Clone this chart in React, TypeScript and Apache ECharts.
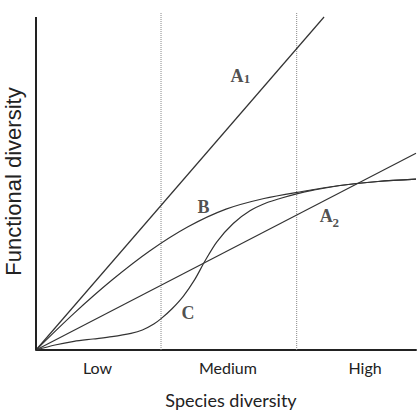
import React, { useEffect, useRef } from "react";
import * as echarts from "echarts";

// ---- data (abstract units: x 0..100, y 0..100) ----
const lineA1: number[][] = [[0, 0], [75.8, 100]];
const lineA2: number[][] = [[0, 0], [100, 59.1]];
const curveB: number[][] = [
  [0, 0], [10, 11.0], [20, 21.0], [30, 29.8], [40, 37.0], [50, 42.3],
  [60, 45.5], [70, 47.6], [80, 49.4], [90, 50.6], [100, 51.3],
];
const curveC: number[][] = [
  [0, 0], [5, 1.5], [10, 2.6], [15, 3.3], [20, 4.0], [25, 5.0], [28, 6.0], [31, 7.8],
  [33, 9.5], [35.8, 12.4], [38.8, 16.2], [41.8, 21.2], [44.5, 26.8], [47.6, 32.5],
  [51.9, 38], [56.3, 41.8], [60.7, 44.2], [64.2, 45.5], [68.6, 46.9], [73, 48.0],
  [80, 49.4], [90, 50.6], [100, 51.3],
];
const dividers: number[] = [32.9, 68.6];
const tickValues: number[] = [16.2, 50.5, 86.6];
const tickLabels: string[] = ["Low", "Medium", "High"];
const curveNames: string[] = ["A", "B", "A", "C"];
const curveNamePos: number[][] = [[52.9, 82.4], [44.1, 42.9], [76.4, 40.1], [40, 11.0]];
const subNames: string[] = ["1", "2"];
const subNamePos: number[][] = [[55.5, 81.4], [78.9, 38.3]];
const xName = "Species diversity";
const yName = "Functional diversity";
const yTop = 100;
const yMax = 101.2;

export default function App() {
  const ref = useRef<HTMLDivElement>(null);
  useEffect(() => {
    if (!ref.current) return;
    const chart = echarts.init(ref.current, undefined, { renderer: "svg" });
    const curveStyle = { color: "#333", width: 1.2 };
    const lineSeries = (data: number[][], smooth: number | boolean) => ({
      type: "line",
      data,
      smooth,
      symbol: "none",
      lineStyle: curveStyle,
      silent: true,
      z: 3,
    });
    chart.setOption({
      animation: false,
      backgroundColor: "#fff",
      grid: { left: 36, right: 1, top: 13, bottom: 66, containLabel: false, outerBoundsMode: "none" },
      xAxis: {
        type: "value",
        min: 0,
        max: 100,
        name: xName,
        nameLocation: "middle",
        nameGap: 41,
        nameTextStyle: { fontFamily: "Lato", fontSize: 18, color: "#222", padding: [0, 0, 0, 10] },
        axisLine: { show: true, lineStyle: { color: "#222", width: 2 } },
        axisTick: { show: false },
        splitLine: { show: false },
        axisLabel: {
          customValues: tickValues,
          margin: 9,
          fontFamily: "Lato",
          fontSize: 16,
          color: "#222",
          formatter: (v: number) => {
            const i = tickValues.indexOf(v);
            return i >= 0 ? tickLabels[i] : "";
          },
        },
      },
      yAxis: {
        type: "value",
        min: 0,
        max: yMax,
        name: yName,
        nameLocation: "middle",
        nameRotate: 90,
        nameGap: 12,
        nameTextStyle: { fontFamily: "Liberation Sans", fontSize: 22, color: "#222" },
        axisLine: { show: false },
        axisTick: { show: false },
        axisLabel: { show: false },
        splitLine: { show: false },
      },
      series: [
        // y axis line
        {
          type: "line",
          data: [[0, 0], [0, yTop]],
          symbol: "none",
          clip: false,
          silent: true,
          lineStyle: { color: "#222", width: 2 },
          z: 4,
        },
        // dotted dividers
        ...dividers.map((d) => ({
          type: "line",
          data: [[d, 0], [d, yMax]],
          symbol: "none",
          silent: true,
          lineStyle: { color: "#888", width: 1, type: "dotted" },
          z: 2,
        })),
        lineSeries(lineA1, false),
        lineSeries(lineA2, false),
        lineSeries(curveB, 0.3),
        lineSeries(curveC, 0.3),
        {
          type: "scatter",
          symbolSize: 0,
          silent: true,
          data: curveNames.map((n, i) => ({ value: curveNamePos[i], name: n })),
          label: {
            show: true,
            position: "inside",
            formatter: (p: any) => p.name,
            fontFamily: "Liberation Serif",
            fontWeight: "bold",
            fontSize: 18,
            color: "#222",
          },
          z: 5,
        },
        {
          type: "scatter",
          symbolSize: 0,
          silent: true,
          data: subNames.map((n, i) => ({ value: subNamePos[i], name: n })),
          label: {
            show: true,
            position: "inside",
            formatter: (p: any) => p.name,
            fontFamily: "Liberation Serif",
            fontWeight: "bold",
            fontSize: 13,
            color: "#222",
          },
          z: 5,
        },
      ],
    });
    return () => chart.dispose();
  }, []);
  return <div ref={ref} style={{ width: 417, height: 416, position: "absolute", left: 0, top: 0 }} />;
}
